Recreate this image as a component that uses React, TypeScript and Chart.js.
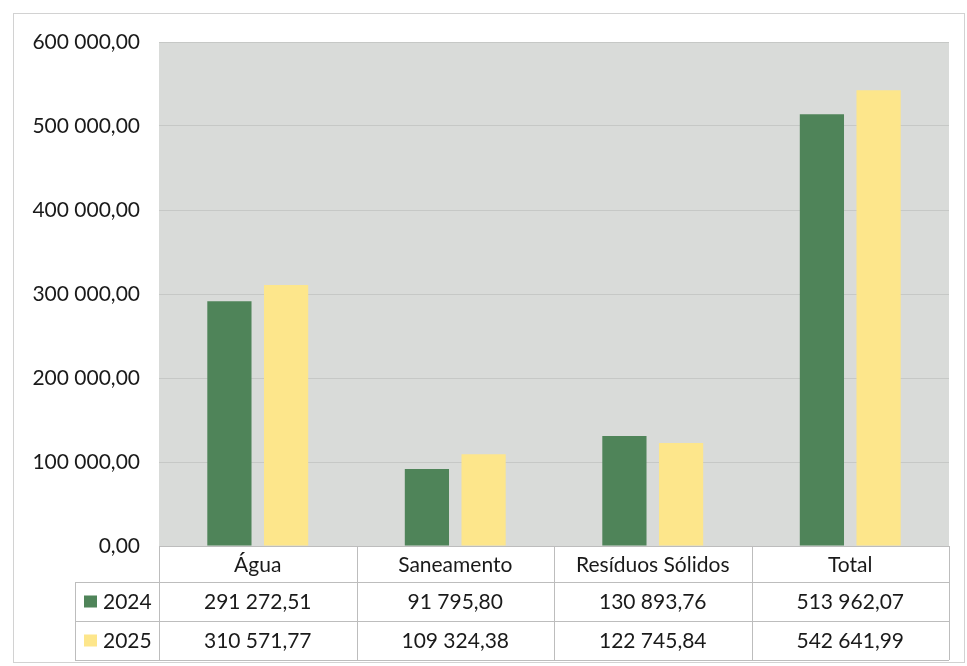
import React, { useEffect, useRef } from "react";
import { Chart, registerables } from "chart.js";

Chart.register(...registerables);

const categories = ["Água", "Saneamento", "Resíduos Sólidos", "Total"];
const seriesLabels = ["2024", "2025"];
const values2024 = [291272.51, 91795.8, 130893.76, 513962.07];
const values2025 = [310571.77, 109324.38, 122745.84, 542641.99];
const seriesColors = ["#4f8459", "#fde68b"];
const yMin = 0;
const yMax = 600000;
const yStep = 100000;

const FONT = "Lato, 'Open Sans', sans-serif";
const FONT_SIZE = 21;
const TEXT_COLOR = "#1a1a1a";

function fmt(v: number): string {
  const [i, d] = v.toFixed(2).split(".");
  return i.replace(/\B(?=(\d{3})+(?!\d))/g, " ") + "," + d;
}

const tablePlugin = {
  id: "excelTable",
  beforeDraw(chart: any) {
    const { ctx, chartArea } = chart;
    ctx.save();
    ctx.fillStyle = "#ffffff";
    ctx.fillRect(0, 0, chart.width, chart.height);
    ctx.strokeStyle = "#d2d2d2";
    ctx.lineWidth = 1;
    ctx.strokeRect(13.5, 13.5, 951, 649);
    ctx.fillStyle = "#d9dbd9";
    ctx.fillRect(chartArea.left, chartArea.top, chartArea.right - chartArea.left, chartArea.bottom - chartArea.top);
    ctx.restore();
  },
  afterDraw(chart: any) {
    const { ctx, chartArea } = chart;
    const xs = chart.scales.x;
    const n = categories.length;
    const catW = (chartArea.right - chartArea.left) / n;
    const top = chartArea.bottom;
    const headerH = 36;
    const rowH = 39;
    const legendLeft = 75;
    const rows = [values2024, values2025];
    const bottom = top + headerH + rowH * rows.length;
    ctx.save();
    ctx.fillStyle = "#ffffff";
    ctx.fillRect(chartArea.left, top, chartArea.right - chartArea.left, bottom - top);
    ctx.fillRect(legendLeft, top + headerH, chartArea.left - legendLeft, bottom - top - headerH);
    ctx.strokeStyle = "#bdbdbd";
    ctx.lineWidth = 1;
    const hl = (x1: number, x2: number, y: number) => {
      ctx.beginPath();
      ctx.moveTo(x1, Math.round(y) + 0.5);
      ctx.lineTo(x2, Math.round(y) + 0.5);
      ctx.stroke();
    };
    const vl = (x: number, y1: number, y2: number) => {
      ctx.beginPath();
      ctx.moveTo(Math.round(x) + 0.5, y1);
      ctx.lineTo(Math.round(x) + 0.5, y2);
      ctx.stroke();
    };
    hl(chartArea.left, chartArea.right, top);
    for (let r = 0; r <= rows.length; r++) hl(legendLeft, chartArea.right, top + headerH + r * rowH);
    vl(legendLeft, top + headerH, bottom);
    for (let i = 0; i <= n; i++) vl(chartArea.left + i * catW, top, bottom);

    ctx.fillStyle = TEXT_COLOR;
    ctx.font = FONT_SIZE + "px " + FONT;
    ctx.textAlign = "center";
    ctx.textBaseline = "middle";
    for (let i = 0; i < n; i++) {
      const cx = xs.getPixelForValue(i);
      ctx.fillText(categories[i], cx, top + headerH / 2 + 1);
      rows.forEach((vals, r) => {
        ctx.fillText(fmt(vals[i]), cx, top + headerH + r * rowH + rowH / 2 + 1);
      });
    }
    rows.forEach((_, r) => {
      const cy = top + headerH + r * rowH + rowH / 2;
      ctx.fillStyle = seriesColors[r];
      ctx.fillRect(84, cy - 6, 13, 12);
      ctx.fillStyle = TEXT_COLOR;
      ctx.textAlign = "left";
      ctx.fillText(seriesLabels[r], 103, cy + 1);
    });
    ctx.restore();
  },
};

export default function App() {
  const ref = useRef<HTMLCanvasElement | null>(null);
  useEffect(() => {
    let chart: Chart | null = null;
    let cancelled = false;
    const make = () => {
      if (cancelled || !ref.current) return;
      chart = new Chart(ref.current, {
        type: "bar",
        data: {
          labels: categories,
          datasets: [
            { label: seriesLabels[0], data: values2024, backgroundColor: seriesColors[0], borderWidth: 0 },
            { label: seriesLabels[1], data: values2025, backgroundColor: seriesColors[1], borderWidth: 0 },
          ],
        },
        options: {
          responsive: false,
          animation: false,
          layout: { padding: { top: 42, right: 18, bottom: 0, left: 0 } },
          datasets: { bar: { categoryPercentage: 0.574, barPercentage: 0.78 } },
          plugins: { legend: { display: false }, tooltip: { enabled: false } },
          scales: {
            x: {
              ticks: { display: false },
              grid: { display: false },
              border: { display: false },
              afterFit: (s: any) => {
                s.height = 120;
              },
            },
            y: {
              min: yMin,
              max: yMax,
              ticks: {
                stepSize: yStep,
                padding: 19,
                color: TEXT_COLOR,
                font: { family: FONT, size: FONT_SIZE },
                callback: (v: any) => fmt(Number(v)),
              },
              grid: { color: "#c6c8c6", drawTicks: false, lineWidth: 1 },
              border: { display: false },
              afterFit: (s: any) => {
                s.width = 159;
              },
            },
          },
        },
        plugins: [tablePlugin],
      });
    };
    const fonts: any = (document as any).fonts;
    if (fonts && fonts.load) {
      fonts.load(FONT_SIZE + "px Lato").then(make, make);
    } else {
      make();
    }
    return () => {
      cancelled = true;
      if (chart) chart.destroy();
    };
  }, []);
  return (
    <div style={{ position: "fixed", left: 0, top: 0, width: 967, height: 666, background: "#fff" }}>
      <canvas ref={ref} width={967} height={666} style={{ display: "block" }} />
    </div>
  );
}
